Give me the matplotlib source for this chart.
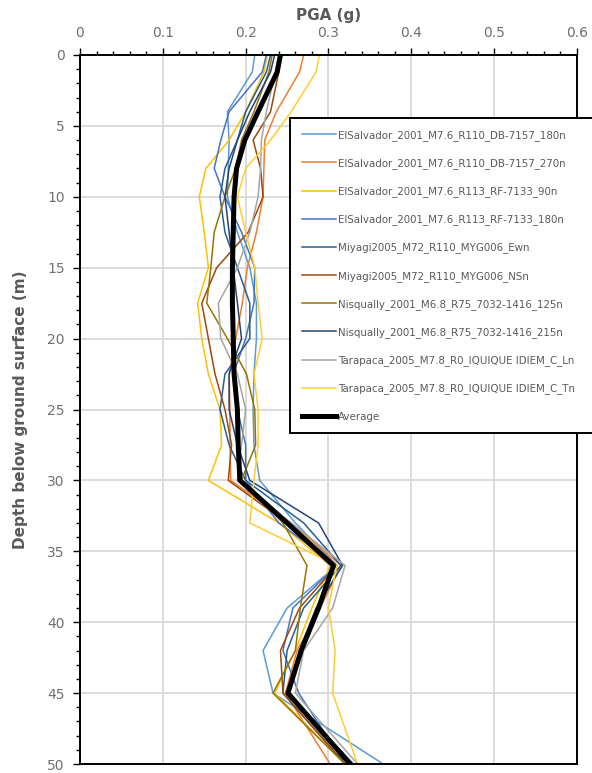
import matplotlib
matplotlib.use("Agg")
import matplotlib.pyplot as plt
import numpy as np

# depth of each profile point (m)
depth = [0, 1.2, 4, 6, 8, 10, 12.5, 15, 17.5, 20, 22.5, 25, 27.5, 30, 33, 36, 39, 42, 45, 50]

# PGA (g) profiles
es_db_180 = [0.211, 0.208, 0.178, 0.180, 0.179, 0.178, 0.190, 0.205, 0.213, 0.213, 0.210, 0.209, 0.210, 0.217, 0.260, 0.310, 0.250, 0.221, 0.233, 0.366]
es_db_270 = [0.270, 0.265, 0.237, 0.223, 0.222, 0.221, 0.213, 0.202, 0.196, 0.188, 0.180, 0.181, 0.181, 0.182, 0.255, 0.315, 0.290, 0.262, 0.248, 0.302]
es_rf_90 = [0.226, 0.222, 0.200, 0.180, 0.152, 0.144, 0.150, 0.155, 0.142, 0.147, 0.155, 0.169, 0.171, 0.155, 0.240, 0.302, 0.280, 0.260, 0.235, 0.320]
es_rf_180 = [0.225, 0.220, 0.180, 0.170, 0.162, 0.175, 0.195, 0.211, 0.210, 0.200, 0.185, 0.190, 0.200, 0.200, 0.240, 0.310, 0.257, 0.245, 0.264, 0.320]
miy_ew = [0.230, 0.225, 0.200, 0.190, 0.175, 0.169, 0.175, 0.190, 0.205, 0.205, 0.175, 0.169, 0.180, 0.200, 0.270, 0.315, 0.270, 0.250, 0.245, 0.320]
miy_ns = [0.243, 0.240, 0.230, 0.209, 0.218, 0.221, 0.203, 0.165, 0.147, 0.155, 0.163, 0.175, 0.183, 0.179, 0.250, 0.310, 0.265, 0.242, 0.245, 0.320]
nis_125 = [0.232, 0.228, 0.210, 0.195, 0.188, 0.175, 0.162, 0.158, 0.153, 0.178, 0.201, 0.211, 0.212, 0.195, 0.245, 0.274, 0.266, 0.260, 0.233, 0.320]
nis_215 = [0.235, 0.230, 0.205, 0.190, 0.180, 0.175, 0.180, 0.185, 0.190, 0.195, 0.180, 0.180, 0.190, 0.205, 0.288, 0.317, 0.285, 0.265, 0.250, 0.330]
tar_ln = [0.240, 0.236, 0.225, 0.219, 0.218, 0.215, 0.205, 0.190, 0.167, 0.170, 0.190, 0.200, 0.195, 0.190, 0.255, 0.320, 0.305, 0.270, 0.260, 0.335]
tar_tn = [0.289, 0.285, 0.255, 0.230, 0.200, 0.190, 0.200, 0.211, 0.215, 0.220, 0.210, 0.215, 0.215, 0.210, 0.205, 0.310, 0.300, 0.308, 0.305, 0.335]
average = [0.242, 0.238, 0.215, 0.199, 0.189, 0.186, 0.185, 0.184, 0.184, 0.185, 0.186, 0.190, 0.191, 0.193, 0.250, 0.306, 0.288, 0.267, 0.251, 0.326]

labels = [
    "ElSalvador_2001_M7.6_R110_DB-7157_180n",
    "ElSalvador_2001_M7.6_R110_DB-7157_270n",
    "ElSalvador_2001_M7.6_R113_RF-7133_90n",
    "ElSalvador_2001_M7.6_R113_RF-7133_180n",
    "Miyagi2005_M72_R110_MYG006_Ewn",
    "Miyagi2005_M72_R110_MYG006_NSn",
    "Nisqually_2001_M6.8_R75_7032-1416_125n",
    "Nisqually_2001_M6.8_R75_7032-1416_215n",
    "Tarapaca_2005_M7.8_R0_IQUIQUE IDIEM_C_Ln",
    "Tarapaca_2005_M7.8_R0_IQUIQUE IDIEM_C_Tn",
]
series = [es_db_180, es_db_270, es_rf_90, es_rf_180, miy_ew, miy_ns, nis_125, nis_215, tar_ln, tar_tn]
colors = ["#5B9BD5", "#ED7D31", "#FFC000", "#4472C4", "#255E91", "#9E480E",
          "#997300", "#264478", "#A5A5A5", "#FFCD33"]

grey = "#595959"
tick_grey = "#707070"
plt.rcParams['font.family'] = ['DejaVu Sans']

fig = plt.figure(figsize=(5.92, 7.73), dpi=100)
ax = fig.add_axes([80/592, 1-764/773, 497/592, 709/773])

for vals, lab, c in zip(series, labels, colors):
    ax.plot(vals, depth, color=c, lw=1.1, label=lab)
ax.plot(average, depth, color="black", lw=3.6, label="Average")

ax.set_xlim(0, 0.6)
ax.set_ylim(50, 0)
ax.xaxis.tick_top()
ax.xaxis.set_label_position("top")
ax.set_xticks(np.arange(0, 0.61, 0.1))
ax.set_xticklabels(["0", "0.1", "0.2", "0.3", "0.4", "0.5", "0.6"])
ax.set_xticks(np.arange(0, 0.601, 0.02), minor=True)
ax.set_yticks(np.arange(0, 51, 5))
ax.set_yticks(np.arange(0, 51, 1), minor=True)
ax.tick_params(which="major", direction="out", length=5, width=1, colors="black",
               labelcolor=tick_grey, labelsize=10, pad=6)
ax.tick_params(which="minor", direction="out", length=3, width=1, colors="black")
ax.grid(which="major", color="#D9D9D9", lw=1.3)
ax.set_axisbelow(True)
for s in ax.spines.values():
    s.set_linewidth(1.4)
    s.set_color("black")

ax.set_xlabel("PGA (g)", color=grey, fontsize=11, fontweight="bold", labelpad=4)
ax.set_ylabel("Depth below ground surface (m)", color=grey, fontsize=11, fontweight="bold", labelpad=14)

leg = ax.legend(loc="upper left", bbox_to_anchor=(290/592, 1-432/773, 306/592, 314/773),
                bbox_transform=fig.transFigure, mode="expand", fontsize=7.4, labelspacing=1.68,
                handlelength=3.3, handletextpad=0.2, borderpad=1.15, borderaxespad=0,
                fancybox=False, framealpha=1, edgecolor="black")
leg.get_frame().set_linewidth(1.4)
for t in leg.get_texts():
    t.set_color(grey)

fig.savefig("out.png", dpi=100)
